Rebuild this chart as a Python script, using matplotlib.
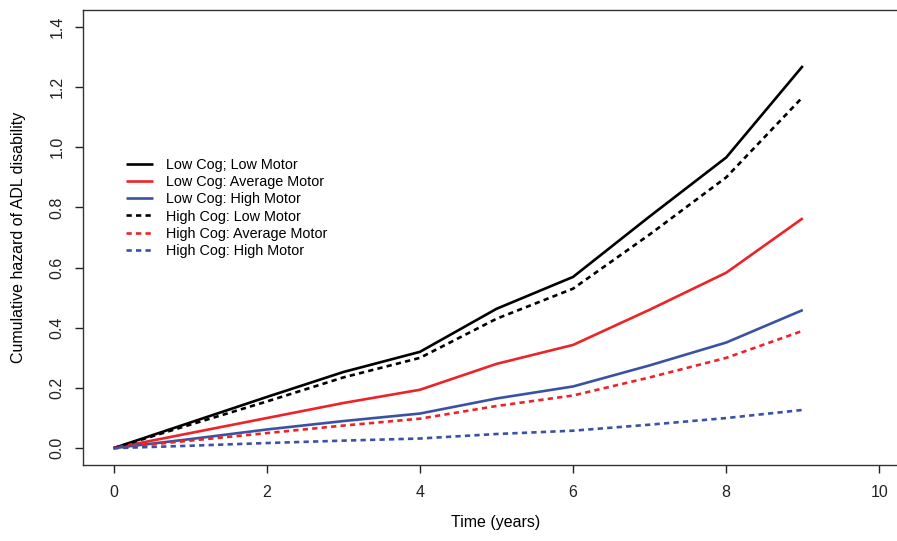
import numpy as np
import matplotlib
matplotlib.use("Agg")
import matplotlib.pyplot as plt

plt.rcParams['font.family'] = ['Liberation Sans', 'DejaVu Sans']

years = [0, 1, 2, 3, 4, 5, 6, 7, 8, 9]

low_cog_low_motor = [0.0, 0.085, 0.17, 0.253, 0.32, 0.463, 0.569, 0.77, 0.966, 1.27]
low_cog_avg_motor = [0.0, 0.05, 0.10, 0.15, 0.194, 0.28, 0.343, 0.46, 0.583, 0.764]
low_cog_high_motor = [0.0, 0.03, 0.062, 0.09, 0.115, 0.165, 0.205, 0.275, 0.351, 0.459]
high_cog_low_motor = [0.0, 0.078, 0.155, 0.235, 0.30, 0.43, 0.53, 0.71, 0.90, 1.167]
high_cog_avg_motor = [0.0, 0.025, 0.05, 0.075, 0.098, 0.14, 0.175, 0.235, 0.30, 0.39]
high_cog_high_motor = [0.0, 0.008, 0.017, 0.025, 0.032, 0.047, 0.058, 0.078, 0.10, 0.127]

labels = ["Low Cog; Low Motor", "Low Cog: Average Motor", "Low Cog: High Motor",
          "High Cog: Low Motor", "High Cog: Average Motor", "High Cog: High Motor"]

black = "#000000"
red = "#ec2327"
blue = "#3a52a3"
dash = (2.0, 1.6)

fig = plt.figure(figsize=(8.97, 5.41), dpi=100)
W, H = 897, 541
# plot box: left 83px, right ~910px (cut off), top 10px, bottom 465px
ax = fig.add_axes([83 / W, 1 - 465 / H, (910 - 83) / W, (465 - 10) / H])

lw = 1.9
series = [
    (low_cog_low_motor, black, None),
    (low_cog_avg_motor, red, None),
    (low_cog_high_motor, blue, None),
    (high_cog_low_motor, black, dash),
    (high_cog_avg_motor, red, dash),
    (high_cog_high_motor, blue, dash),
]
for (vals, col, d), lab in zip(series, labels):
    if d is None:
        ax.plot(years, vals, color=col, lw=lw, label=lab, solid_capstyle='butt')
    else:
        ax.plot(years, vals, color=col, lw=lw, label=lab, dashes=d, dash_capstyle='butt')

ax.set_xlim(-0.4, 10.4)
ax.set_ylim(-0.056, 1.456)
ax.set_xticks([0, 2, 4, 6, 8, 10])
ax.set_yticks(np.arange(0, 1.41, 0.2))
ax.set_yticklabels(["%.1f" % v for v in np.arange(0, 1.41, 0.2)], rotation=90, va='center')
ax.tick_params(direction='out', length=5.5, width=1, labelsize=11.5, colors='#222222')
ax.tick_params(axis='x', pad=9)
ax.tick_params(axis='y', pad=8)
for s in ax.spines.values():
    s.set_linewidth(1)
    s.set_color('#333333')

fig.text(496 / W, 1 - 523 / H, "Time (years)", ha='center', va='center', fontsize=11.5)
fig.text(19 / W, 1 - 237 / H, "Cumulative hazard of ADL disability", ha='center', va='center',
         rotation=90, fontsize=11.5)

ax.legend(loc='upper left', bbox_to_anchor=(126 / W, 1 - 158 / H), bbox_transform=fig.transFigure,
          frameon=False, fontsize=10.4, handlelength=1.9, handletextpad=0.85, labelspacing=0.22,
          borderpad=0, borderaxespad=0)

fig.savefig("out.png", dpi=100)
